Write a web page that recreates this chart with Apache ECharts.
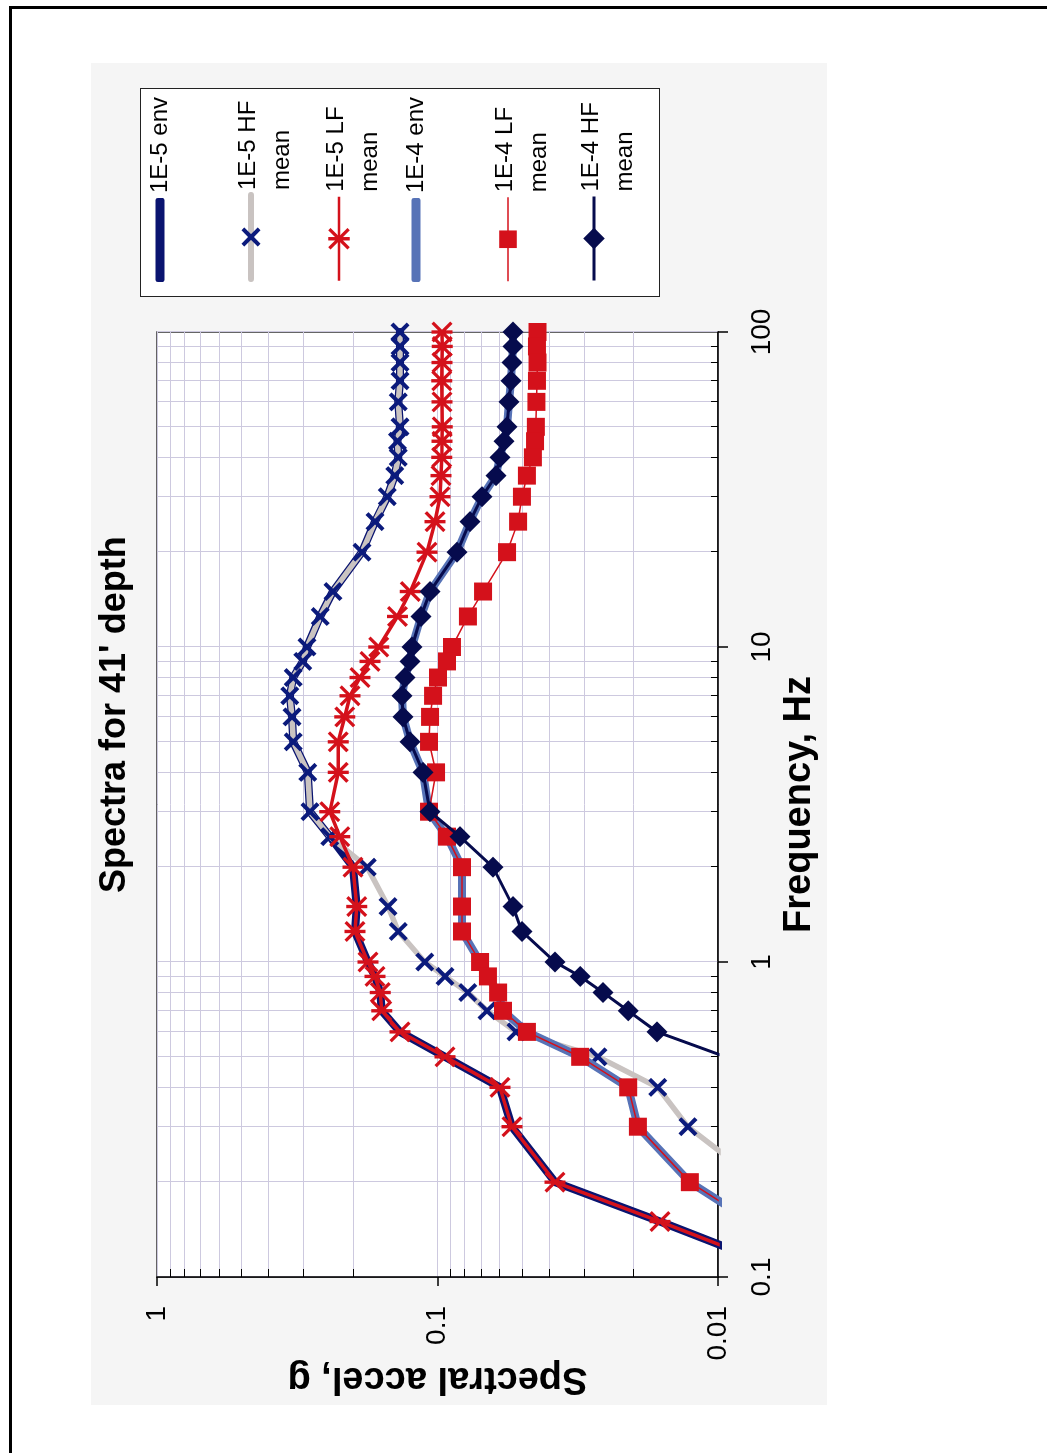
<!DOCTYPE html>
<html>
<head>
<meta charset="utf-8">
<script src="https://cdn.jsdelivr.net/npm/echarts@6/dist/echarts.min.js"></script>
<style>
html,body{margin:0;padding:0;background:#fff;overflow:hidden;width:1047px;height:1453px;}
#rot{position:absolute;left:0;top:0;width:1453px;height:1047px;transform-origin:0 0;transform:translate(0px,1453px) rotate(-90deg);}
#panel{position:absolute;left:48px;top:91px;width:1342px;height:736px;background:#f5f5f5;}
#legbox{position:absolute;left:1156px;top:140px;width:209px;height:520px;background:#fff;border:1.5px solid #222;box-sizing:border-box;}
#frameA{position:absolute;left:0;top:9px;width:1447px;height:3px;background:#000;}
#frameB{position:absolute;left:1444px;top:9px;width:3px;height:1038px;background:#000;}
#chart{position:absolute;left:0;top:0;width:1453px;height:1047px;}
</style>
</head>
<body>
<div id="rot">
  <div id="panel"></div>
  <div id="legbox"></div>
  <div id="frameA"></div>
  <div id="frameB"></div>
  <div id="chart"></div>
</div>
<script>
// ---- data ----
const freqHz = [100, 90, 80, 70, 60, 50, 45, 40, 35, 30, 25, 20, 15, 12.5, 10, 9, 8, 7, 6, 5, 4, 3, 2.5, 2, 1.5, 1.25, 1, 0.9, 0.8, 0.7, 0.6, 0.5, 0.4, 0.3, 0.2, 0.15, 0.1];

const env1e5 = [0.136, 0.136, 0.136, 0.136, 0.138, 0.136, 0.139, 0.138, 0.142, 0.151, 0.167, 0.186, 0.236, 0.262, 0.292, 0.302, 0.327, 0.336, 0.330, 0.327, 0.290, 0.285, 0.242, 0.200, 0.194, 0.197, 0.177, 0.167, 0.160, 0.158, 0.136, 0.094, 0.0599, 0.0543, 0.0381, 0.0161, 0.005];

const hfMean1e5 = [0.136, 0.136, 0.136, 0.136, 0.138, 0.136, 0.139, 0.138, 0.142, 0.151, 0.167, 0.186, 0.236, 0.262, 0.292, 0.302, 0.327, 0.336, 0.330, 0.327, 0.290, 0.285, 0.242, 0.178, 0.150, 0.138, 0.111, 0.094, 0.078, 0.0666, 0.0525, 0.0268, 0.0164, 0.0128, 0.0071, null, null];

const lfMean1e5 = [0.0964, 0.0962, 0.0964, 0.0966, 0.0964, 0.0962, 0.0964, 0.0966, 0.0972, 0.098, 0.102, 0.109, 0.125, 0.139, 0.162, 0.174, 0.189, 0.205, 0.214, 0.226, 0.226, 0.242, 0.223, 0.200, 0.194, 0.197, 0.177, 0.167, 0.160, 0.158, 0.136, 0.094, 0.0599, 0.0543, 0.0381, 0.0161, 0.005];

const env1e4 = [0.0538, 0.0538, 0.0543, 0.0547, 0.0556, 0.0565, 0.0579, 0.0599, 0.0619, 0.0694, 0.0766, 0.0852, 0.1063, 0.1145, 0.1233, 0.1253, 0.1305, 0.1338, 0.1327, 0.1253, 0.1126, 0.1072, 0.0925, 0.0818, 0.0818, 0.0818, 0.0705, 0.0661, 0.0608, 0.0584, 0.0480, 0.0310, 0.0209, 0.0193, 0.0126, 0.0076, null];

const lfMean1e4 = [0.0440, 0.0442, 0.0440, 0.0442, 0.0444, 0.0446, 0.0449, 0.0457, 0.0480, 0.0500, 0.0516, 0.0565, 0.0688, 0.0779, 0.0888, 0.0925, 0.0996, 0.1037, 0.1063, 0.1072, 0.1012, 0.1072, 0.0925, 0.0818, 0.0818, 0.0818, 0.0705, 0.0661, 0.0608, 0.0584, 0.0480, 0.0310, 0.0209, 0.0193, 0.0126, 0.0076, null];

const hfMean1e4 = [0.0538, 0.0538, 0.0543, 0.0547, 0.0556, 0.0565, 0.0579, 0.0599, 0.0619, 0.0694, 0.0766, 0.0852, 0.1063, 0.1145, 0.1233, 0.1253, 0.1305, 0.1338, 0.1327, 0.1253, 0.1126, 0.1063, 0.0831, 0.0634, 0.0538, 0.0500, 0.0381, 0.0310, 0.0257, 0.0209, 0.0165, 0.0094, 0.006, null, null, null, null];

const seriesNames = ['1E-5 env', '1E-5 HF mean', '1E-5 LF mean', '1E-4 env', '1E-4 LF mean', '1E-4 HF mean'];
const titleText = "Spectra for 41' depth";
const xName = 'Frequency, Hz';
const yName = 'Spectral accel, g';

// ---- styling ----
const FONT = '"Liberation Sans", Arial, Helvetica, sans-serif';
const GRID_C = '#cdc9df';
const NAVY = '#0a1470';
const XNAVY = '#0b1a7c';
const DNAVY = '#060b4d';
const RED = '#d4111b';
const GRAY = '#c9c3c1';
const BLUE = '#5773b7';
const X_PATH = 'path://M0 15L15 0L50 35L85 0L100 15L65 50L100 85L85 100L50 65L15 100L0 85L35 50Z';
const STAR_PATH = 'path://M42 0L58 0L58 31L89 0L100 11L61 50L100 89L89 100L58 69L58 100L42 100L42 69L11 100L0 89L39 50L0 11L11 0L42 31Z';

function pairs(vals) {
  return freqHz.map((f, i) => [f, vals[i]]).filter(p => p[1] !== null && p[1] !== undefined);
}

function lineSeries(name, vals, z, opts) {
  return Object.assign({
    name: name, type: 'line', data: pairs(vals), z: z,
    clip: true, animation: false, emphasis: { disabled: true }
  }, opts);
}

const series = [
  lineSeries(seriesNames[0], env1e5, 2, { symbol: 'none', showSymbol: false, lineStyle: { color: NAVY, width: 8, join: 'round', cap: 'round' }, itemStyle: { color: NAVY } }),
  lineSeries(seriesNames[1], hfMean1e5, 3, { symbol: X_PATH, symbolSize: 19, lineStyle: { color: GRAY, width: 5.5, join: 'round', cap: 'round' }, itemStyle: { color: XNAVY } }),
  lineSeries(seriesNames[2], lfMean1e5, 4, { symbol: STAR_PATH, symbolSize: 21, lineStyle: { color: RED, width: 3.5, join: 'round' }, itemStyle: { color: RED } }),
  lineSeries(seriesNames[3], env1e4, 5, { symbol: 'none', showSymbol: false, lineStyle: { color: BLUE, width: 8, join: 'round', cap: 'round' }, itemStyle: { color: BLUE } }),
  lineSeries(seriesNames[4], lfMean1e4, 6, { symbol: 'rect', symbolSize: 18, lineStyle: { color: RED, width: 1.5 }, itemStyle: { color: RED } }),
  lineSeries(seriesNames[5], hfMean1e4, 7, { symbol: 'diamond', symbolSize: 21, lineStyle: { color: DNAVY, width: 3 }, itemStyle: { color: DNAVY } })
];

const legendText = { fontFamily: FONT, fontSize: 24, color: '#000' };
// centerY = where the legend symbol sits; topOffset = measured distance from the legend box top to its symbol
function legendFor(name, centerY, itemH, twoLine, lineColor, lineWidth, itemColor, icon) {
  const topOffset = twoLine ? 15 : Math.max(itemH, 28) / 2;
  const lg = {
    data: [name], orient: 'vertical', left: 1171,
    top: centerY - topOffset,
    itemWidth: 84, itemHeight: itemH, padding: 0, selectedMode: false,
    formatter: function (n) {
      const k = n.indexOf(' mean');
      return k >= 0 ? '{a|' + n.slice(0, k) + '}\n{b|mean}' : '{s|' + n + '}';
    },
    textStyle: {
      fontFamily: FONT, fontSize: 24, color: '#000',
      rich: {
        a: Object.assign({ lineHeight: 62 }, legendText),
        b: Object.assign({ lineHeight: 6 }, legendText),
        s: Object.assign({ lineHeight: 28 }, legendText)
      }
    },
    itemStyle: { color: itemColor, borderWidth: 0 },
    lineStyle: { color: lineColor, width: lineWidth }
  };
  if (icon) lg.icon = icon;
  return lg;
}

const legends = [
  legendFor(seriesNames[0], 162, 9, false, NAVY, 8, NAVY, 'roundRect'),
  legendFor(seriesNames[1], 251, 24, true, GRAY, 6, XNAVY),
  legendFor(seriesNames[2], 339, 27, true, RED, 2.5, RED),
  legendFor(seriesNames[3], 418, 9, false, BLUE, 8, BLUE, 'roundRect'),
  legendFor(seriesNames[4], 508, 22, true, RED, 1.5, RED),
  legendFor(seriesNames[5], 594, 27, true, DNAVY, 3, DNAVY)
];

const axisCommon = {
  type: 'log', logBase: 10,
  nameLocation: 'middle', nameMoveOverlap: false,
  nameTextStyle: { fontFamily: FONT, fontSize: 38, fontWeight: 'bold', color: '#000' },
  axisLine: { show: true, onZero: false, lineStyle: { color: '#000', width: 1.5 } },
  splitLine: { show: true, lineStyle: { color: GRID_C, width: 1 } },
  minorSplitLine: { show: true, lineStyle: { color: GRID_C, width: 1 } }
};

const option = {
  animation: false,
  title: {
    text: titleText, left: 560, top: 97, padding: 0,
    textStyle: { fontFamily: FONT, fontSize: 36, fontWeight: 'bold', color: '#000' }
  },
  legend: legends,
  grid: { left: 176, top: 157, width: 945, height: 561, show: true, backgroundColor: '#fff', borderColor: '#333', borderWidth: 1.5, containLabel: false },
  xAxis: Object.assign({}, axisCommon, {
    min: 0.1, max: 100, name: xName, nameGap: 63,
    axisTick: { show: true, inside: false, length: 10, lineStyle: { color: '#000', width: 1.5 } },
    minorTick: { show: true, splitNumber: 9, length: -7, lineStyle: { color: '#000', width: 1 } },
    axisLabel: { margin: 30, fontFamily: FONT, fontSize: 28, color: '#000' }
  }),
  yAxis: Object.assign({}, axisCommon, {
    min: 0.01, max: 1, name: yName, nameGap: 82, nameRotate: 90,
    axisTick: { show: true, inside: false, length: 9, lineStyle: { color: '#000', width: 1.5 } },
    minorTick: { show: true, splitNumber: 9, length: -8, lineStyle: { color: '#000', width: 1 } },
    axisLabel: { margin: 29, fontFamily: FONT, fontSize: 28, color: '#000' }
  }),
  series: series
};

const chart = echarts.init(document.getElementById('chart'), null, { renderer: 'canvas' });
chart.setOption(option);
</script>
</body>
</html>
